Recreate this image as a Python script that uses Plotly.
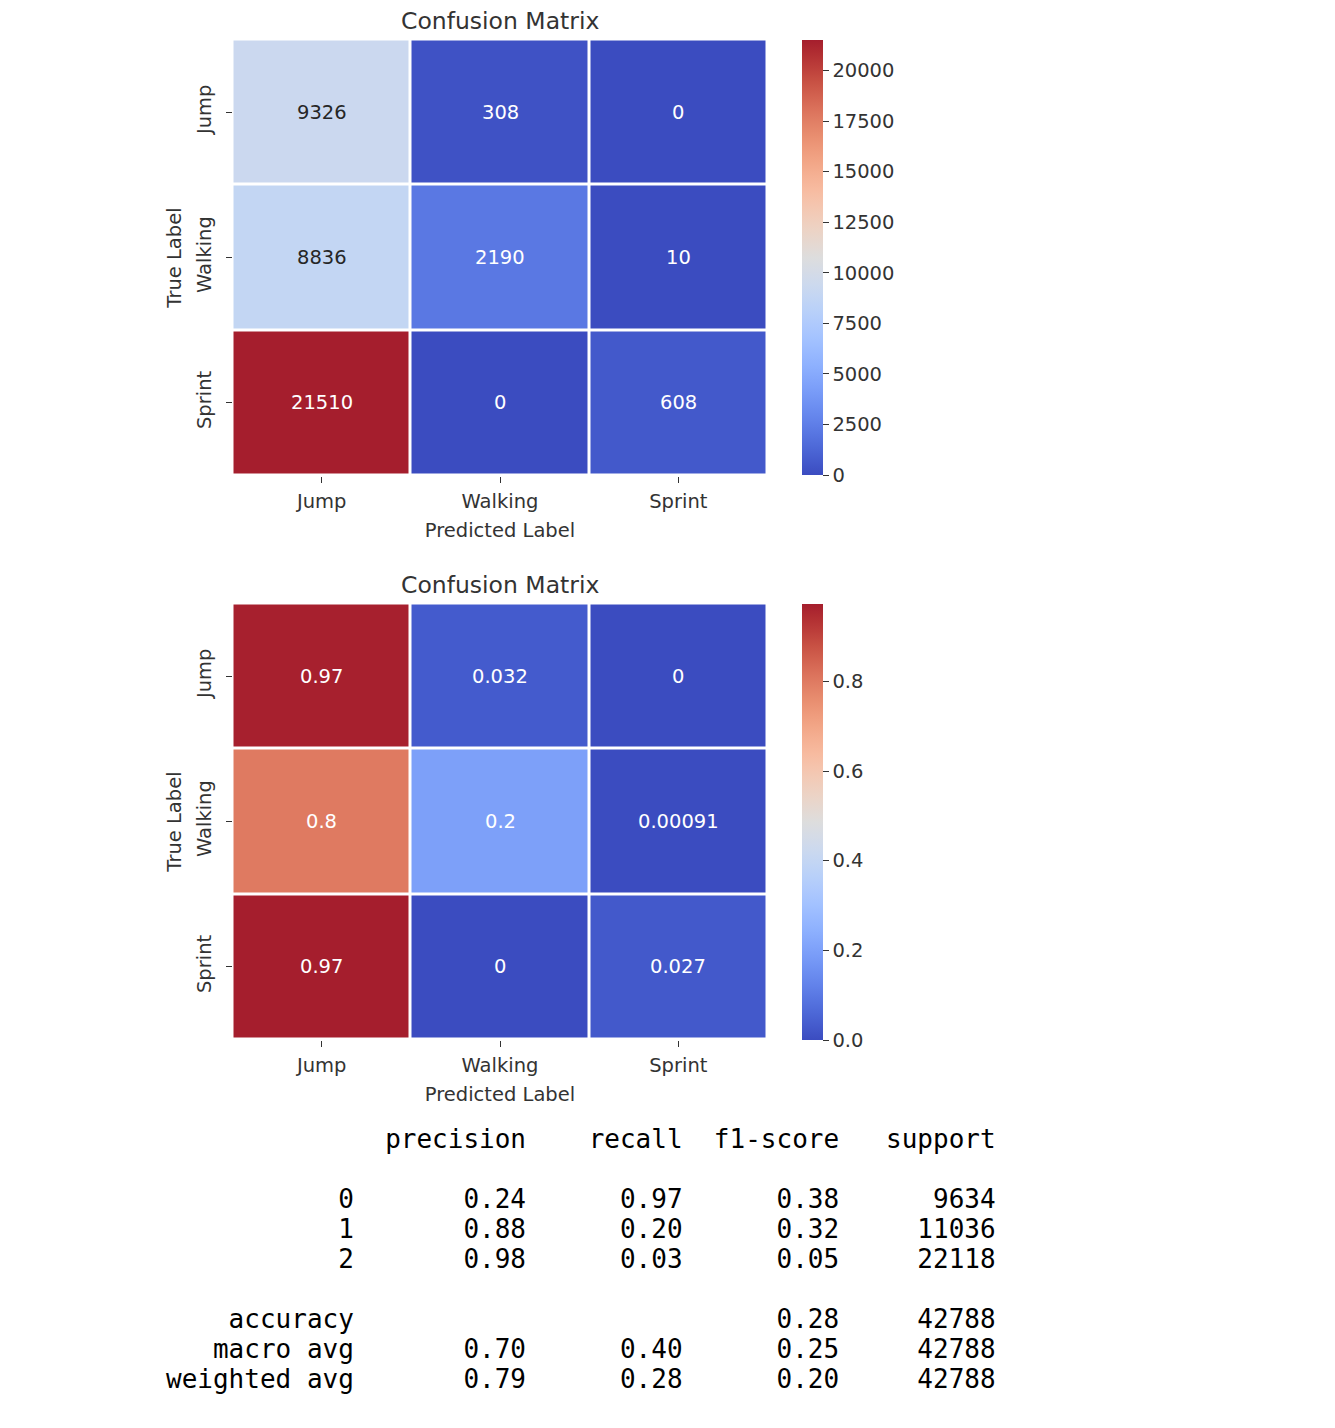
import plotly.graph_objects as go

# ---------------- data ----------------
labels = ["Jump", "Walking", "Sprint"]
counts = [
    [9326, 308, 0],
    [8836, 2190, 10],
    [21510, 0, 608],
]
normalized = [
    [0.968, 0.032, 0.0],
    [0.8006, 0.1984, 0.00091],
    [0.9725, 0.0, 0.0272],
]
count_ticks = [0, 2500, 5000, 7500, 10000, 12500, 15000, 17500, 20000]
norm_ticks = [0.0, 0.2, 0.4, 0.6, 0.8]
norm_tick_text = ["0.0", "0.2", "0.4", "0.6", "0.8"]

report_classes = ["0", "1", "2"]
precision = [0.24, 0.88, 0.98]
recall = [0.97, 0.20, 0.03]
f1_score = [0.38, 0.32, 0.05]
support = [9634, 11036, 22118]
accuracy = 0.28
total_support = 42788
macro_avg = [0.70, 0.40, 0.25]
weighted_avg = [0.79, 0.28, 0.20]

# ---------------- style ----------------
OFF = 8  # page body margin
W, H = 1335 - 2 * OFF, 1428 - 2 * OFF
FONT = "DejaVu Sans"
FS = 19.5
TXT = "#333333"

coolwarm = [
    (0.0, (59, 76, 192)), (0.03125, (68, 90, 204)), (0.0625, (77, 104, 215)),
    (0.09375, (87, 117, 225)), (0.125, (98, 130, 234)), (0.15625, (108, 142, 241)),
    (0.1875, (119, 154, 247)), (0.21875, (130, 165, 251)), (0.25, (141, 176, 254)),
    (0.28125, (152, 185, 255)), (0.3125, (163, 194, 255)), (0.34375, (174, 201, 253)),
    (0.375, (184, 208, 249)), (0.40625, (194, 213, 244)), (0.4375, (204, 217, 238)),
    (0.46875, (213, 219, 230)), (0.5, (221, 221, 221)), (0.53125, (229, 216, 209)),
    (0.5625, (236, 211, 197)), (0.59375, (241, 204, 185)), (0.625, (245, 196, 173)),
    (0.65625, (247, 187, 160)), (0.6875, (245, 177, 148)), (0.71875, (242, 166, 135)),
    (0.75, (238, 154, 123)), (0.78125, (232, 141, 111)), (0.8125, (225, 127, 101)),
    (0.84375, (218, 112, 90)), (0.875, (209, 96, 78)), (0.90625, (199, 80, 67)),
    (0.9375, (188, 62, 58)), (0.96875, (177, 46, 50)), (1.0, (165, 30, 45)),
]
colorscale = [[s, "rgb(%d,%d,%d)" % c] for s, c in coolwarm]


def px_x(p):
    return (p - OFF) / W


def px_y(p):
    return 1 - (p - OFF) / H


fig = go.Figure()

panels = [
    dict(z=counts, fmt=lambda v: str(v), top=41, bot=474, cb_top=40, cb_bot=475,
         tickvals=count_ticks, ticktext=[str(t) for t in count_ticks], title_y=21,
         xa="x", ya="y"),
    dict(z=normalized, fmt=lambda v: ("%.2g" % v), top=605, bot=1038, cb_top=604, cb_bot=1040,
         tickvals=norm_ticks, ticktext=norm_tick_text, title_y=585,
         xa="x2", ya="y2"),
]

x_left, x_right = 232.5, 767.5
annotations = []
for i, p in enumerate(panels):
    zmax = max(max(r) for r in p["z"])
    fig.add_trace(go.Heatmap(
        z=p["z"], x=labels, y=labels,
        colorscale=colorscale, zmin=0, zmax=zmax,
        xgap=3, ygap=3,
        xaxis=p["xa"], yaxis=p["ya"],
        hoverinfo="skip",
        colorbar=dict(
            x=px_x(802), xanchor="left", xpad=0, ypad=0,
            y=px_y((p["cb_top"] + p["cb_bot"]) / 2), yanchor="middle",
            len=(p["cb_bot"] - p["cb_top"]) / H, lenmode="fraction",
            thickness=21, outlinewidth=0,
            tickmode="array", tickvals=p["tickvals"], ticktext=p["ticktext"],
            ticks="outside", ticklen=6, tickwidth=1, tickcolor=TXT,
            tickfont=dict(family=FONT, size=FS, color=TXT),
        ),
    ))
    for r, row in enumerate(p["z"]):
        for c, v in enumerate(row):
            frac = v / zmax
            color = "#262626" if 0.3 <= frac <= 0.7 else "#ffffff"
            annotations.append(dict(
                x=labels[c], y=labels[r], xref=p["xa"], yref=p["ya"],
                text=p["fmt"](v), showarrow=False,
                font=dict(family=FONT, size=FS, color=color),
            ))
    annotations.append(dict(
        x=0.5, xref=("x domain" if i == 0 else "x2 domain"),
        y=px_y(p["title_y"]), yref="paper", yanchor="middle",
        text="Confusion Matrix", showarrow=False,
        font=dict(family=FONT, size=23.5, color=TXT),
    ))

axis_common = dict(showgrid=False, zeroline=False, showline=False,
                   ticks="outside", ticklen=6, tickwidth=1, tickcolor=TXT,
                   tickfont=dict(family=FONT, size=FS, color=TXT))

layout_axes = {}
for i, p in enumerate(panels):
    sx = "" if i == 0 else "2"
    layout_axes["xaxis" + sx] = dict(
        axis_common, domain=[px_x(x_left), px_x(x_right)], anchor="y" + sx,
        type="category", ticklabelstandoff=2,
        title=dict(text="Predicted Label", standoff=11,
                   font=dict(family=FONT, size=FS, color=TXT)),
    )
    layout_axes["yaxis" + sx] = dict(
        axis_common, domain=[px_y(p["bot"] + 1.5), px_y(p["top"] - 1.5)], anchor="x" + sx,
        type="category", autorange="reversed", tickangle=-90, ticklabelstandoff=7,
        title=dict(text="True Label", standoff=5,
                   font=dict(family=FONT, size=FS, color=TXT)),
    )

# ---------------- classification report text ----------------
width = 12
headers = ["precision", "recall", "f1-score", "support"]
lines = []
lines.append(("{:>{w}s} ".format("", w=width) + "".join(" {:>9}".format(h) for h in headers), 1139))
for k, name in enumerate(report_classes):
    s = "{:>{w}s} ".format(name, w=width)
    s += " {:>9.2f} {:>9.2f} {:>9.2f} {:>9}".format(precision[k], recall[k], f1_score[k], support[k])
    lines.append((s, 1199 + 30 * k))
s = "{:>{w}s} ".format("accuracy", w=width) + " {:>9} {:>9} {:>9.2f} {:>9}".format("", "", accuracy, total_support)
lines.append((s, 1319))
s = "{:>{w}s} ".format("macro avg", w=width) + " {:>9.2f} {:>9.2f} {:>9.2f} {:>9}".format(*macro_avg, total_support)
lines.append((s, 1349))
s = "{:>{w}s} ".format("weighted avg", w=width) + " {:>9.2f} {:>9.2f} {:>9.2f} {:>9}".format(*weighted_avg, total_support)
lines.append((s, 1379))

for text, ypx in lines:
    annotations.append(dict(
        x=px_x(164), xref="paper", xanchor="left",
        y=px_y(ypx), yref="paper", yanchor="middle",
        text=text.replace(" ", "\u00a0"), showarrow=False,
        font=dict(family="DejaVu Sans Mono", size=26, color="#000000"),
    ))

fig.update_layout(
    width=W, height=H,
    margin=dict(l=0, r=0, t=0, b=0),
    paper_bgcolor="white", plot_bgcolor="white",
    showlegend=False,
    annotations=annotations,
    **layout_axes,
)

fig.write_html("out.html")
